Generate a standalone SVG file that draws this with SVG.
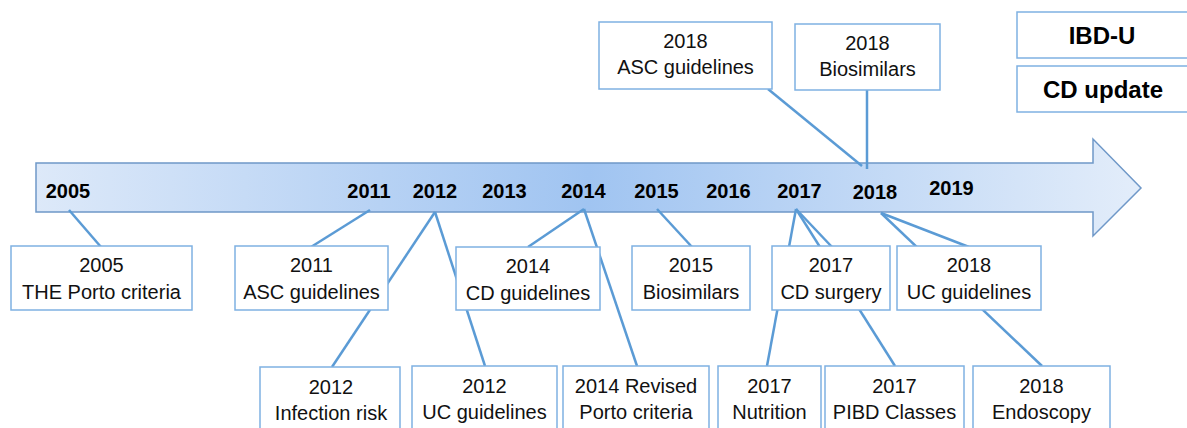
<svg xmlns="http://www.w3.org/2000/svg" width="1187" height="428" viewBox="0 0 1187 428">
<style>
.box{fill:#ffffff;stroke:#7fb1e2;stroke-width:1.5}
.t{font-family:"Liberation Sans",Arial,sans-serif;font-size:20px;fill:#111111;text-anchor:middle}
.yr{font-family:"Liberation Sans",Arial,sans-serif;font-size:20px;font-weight:bold;fill:#000000;text-anchor:middle}
.big{font-family:"Liberation Sans",Arial,sans-serif;font-size:24px;font-weight:bold;fill:#000000;text-anchor:middle}
.ln{stroke:#5b9bd5;stroke-width:2.5;fill:none}
</style>
<defs>
<linearGradient id="g" x1="36" y1="0" x2="1141" y2="0" gradientUnits="userSpaceOnUse">
<stop offset="0" stop-color="#dde9f9"/>
<stop offset="0.5" stop-color="#a0c4f1"/>
<stop offset="1" stop-color="#e3edfa"/>
</linearGradient>
</defs>
<rect width="1187" height="428" fill="#ffffff"/>
<g id="timeline">
<polygon points="36,163 1093,163 1093,139 1141,188 1093,236 1093,212 36,212" fill="url(#g)" stroke="#6f98c8" stroke-width="1.5"/>
<text class="yr" x="68" y="198">2005</text>
<text class="yr" x="369" y="198">2011</text>
<text class="yr" x="435" y="198">2012</text>
<text class="yr" x="504.5" y="198">2013</text>
<text class="yr" x="583.5" y="198">2014</text>
<text class="yr" x="656.5" y="198">2015</text>
<text class="yr" x="728.5" y="198">2016</text>
<text class="yr" x="799.5" y="198">2017</text>
<text class="yr" x="875" y="199">2018</text>
<text class="yr" x="951.5" y="195">2019</text>
</g>
<g id="connectors">
<line class="ln" x1="69" y1="210" x2="101" y2="247"/>
<line class="ln" x1="370" y1="210" x2="311" y2="247"/>
<line class="ln" x1="435" y1="212" x2="332" y2="367"/>
<line class="ln" x1="435" y1="212" x2="485" y2="366"/>
<line class="ln" x1="584" y1="209" x2="528" y2="247"/>
<line class="ln" x1="584" y1="209" x2="637" y2="366"/>
<line class="ln" x1="657" y1="209" x2="692" y2="247"/>
<line class="ln" x1="796" y1="209" x2="767" y2="366"/>
<line class="ln" x1="796" y1="209" x2="895" y2="366"/>
<line class="ln" x1="796" y1="209" x2="832" y2="247"/>
<line class="ln" x1="881" y1="213" x2="1042" y2="366"/>
<line class="ln" x1="881" y1="213" x2="969" y2="247"/>
<line class="ln" x1="768" y1="89" x2="862" y2="166"/>
<line class="ln" x1="867" y1="90" x2="867" y2="169"/>
</g>
<g id="n2005">
<rect class="box" x="11" y="246" width="181" height="64"/>
<text class="t" x="101.5" y="272">2005</text>
<text class="t" x="101.5" y="299">THE Porto criteria</text>
</g>
<g id="n2011">
<rect class="box" x="235" y="246" width="153" height="64"/>
<text class="t" x="311.5" y="272">2011</text>
<text class="t" x="311.5" y="299">ASC guidelines</text>
</g>
<g id="n2014cd">
<rect class="box" x="456" y="247" width="144" height="63"/>
<text class="t" x="528" y="273">2014</text>
<text class="t" x="528" y="300">CD guidelines</text>
</g>
<g id="n2015">
<rect class="box" x="632" y="246" width="118" height="64"/>
<text class="t" x="691" y="272">2015</text>
<text class="t" x="691" y="299">Biosimilars</text>
</g>
<g id="n2017cd">
<rect class="box" x="772" y="246" width="118" height="64"/>
<text class="t" x="831" y="272">2017</text>
<text class="t" x="831" y="299">CD surgery</text>
</g>
<g id="n2018uc">
<rect class="box" x="897" y="246" width="144" height="64"/>
<text class="t" x="969" y="272">2018</text>
<text class="t" x="969" y="299">UC guidelines</text>
</g>
<g id="n2012inf">
<rect class="box" x="260" y="367" width="140" height="70"/>
<text class="t" x="331" y="394">2012</text>
<text class="t" x="331" y="420">Infection risk</text>
</g>
<g id="n2012uc">
<rect class="box" x="412" y="366" width="145" height="70"/>
<text class="t" x="484.5" y="393">2012</text>
<text class="t" x="484.5" y="419">UC guidelines</text>
</g>
<g id="n2014porto">
<rect class="box" x="563" y="366" width="146" height="70"/>
<text class="t" x="636" y="393">2014 Revised</text>
<text class="t" x="636" y="419">Porto criteria</text>
</g>
<g id="n2017nut">
<rect class="box" x="718" y="366" width="103" height="70"/>
<text class="t" x="769.5" y="393">2017</text>
<text class="t" x="769.5" y="419">Nutrition</text>
</g>
<g id="n2017pibd">
<rect class="box" x="825" y="366" width="139" height="70"/>
<text class="t" x="894.5" y="393">2017</text>
<text class="t" x="894.5" y="419">PIBD Classes</text>
</g>
<g id="n2018endo">
<rect class="box" x="973" y="366" width="137" height="70"/>
<text class="t" x="1041.5" y="393">2018</text>
<text class="t" x="1041.5" y="419">Endoscopy</text>
</g>
<g id="n2018asc">
<rect class="box" x="599" y="22" width="173" height="67"/>
<text class="t" x="685.5" y="48">2018</text>
<text class="t" x="685.5" y="74">ASC guidelines</text>
</g>
<g id="n2018bio">
<rect class="box" x="795" y="24" width="145" height="66"/>
<text class="t" x="867.5" y="50">2018</text>
<text class="t" x="867.5" y="76">Biosimilars</text>
</g>
<g id="nibdu">
<rect class="box" x="1017" y="12" width="190" height="46"/>
<text class="big" x="1102" y="44">IBD-U</text>
</g>
<g id="ncdupdate">
<rect class="box" x="1017" y="66" width="190" height="46"/>
<text class="big" x="1103" y="98">CD update</text>
</g>
</svg>
